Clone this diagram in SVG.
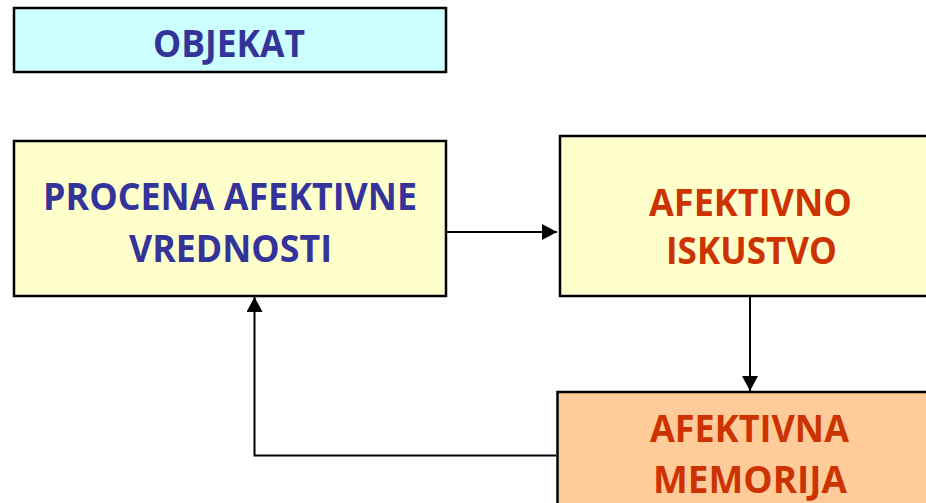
<svg xmlns="http://www.w3.org/2000/svg" width="926" height="503" viewBox="0 0 926 503">
<defs>
<style>
.box{stroke:#000;stroke-width:2.5}
.t{font-family:"Open Sans","Liberation Sans",sans-serif;font-weight:bold;font-size:37.5px;text-anchor:middle}
.blue{fill:#333399}
.red{fill:#CC3300}
.conn{stroke:#000;stroke-width:2;fill:none}
</style>
<marker id="ah" markerWidth="16" markerHeight="16" viewBox="0 0 16 16" refX="15" refY="8" orient="auto" markerUnits="userSpaceOnUse">
<path d="M0,0 L15,8 L0,16 Z" fill="#000"/>
</marker>
</defs>
<rect width="926" height="503" fill="#fff"/>
<g id="objekat">
<rect class="box" x="14" y="8" width="432" height="64" fill="#CCFFFF"/>
<text class="t blue" x="229" y="57" textLength="152" lengthAdjust="spacingAndGlyphs">OBJEKAT</text>
</g>
<g id="procena">
<rect class="box" x="14" y="141" width="432" height="155" fill="#FFFFCC"/>
<text class="t blue" x="230" y="210" textLength="374" lengthAdjust="spacingAndGlyphs">PROCENA AFEKTIVNE</text>
<text class="t blue" x="230.5" y="262" textLength="203" lengthAdjust="spacingAndGlyphs">VREDNOSTI</text>
</g>
<g id="iskustvo">
<rect class="box" x="560" y="136" width="380" height="160" fill="#FFFFCC"/>
<text class="t red" x="750.5" y="215.5" textLength="203" lengthAdjust="spacingAndGlyphs">AFEKTIVNO</text>
<text class="t red" x="751.5" y="264" textLength="171" lengthAdjust="spacingAndGlyphs">ISKUSTVO</text>
</g>
<g id="memorija">
<rect class="box" x="557.5" y="392" width="380" height="130" fill="#FFCC99"/>
<text class="t red" x="749.5" y="441.5" textLength="199" lengthAdjust="spacingAndGlyphs">AFEKTIVNA</text>
<text class="t red" x="750" y="492.5" textLength="194" lengthAdjust="spacingAndGlyphs">MEMORIJA</text>
</g>
<g id="connectors">
<line class="conn" x1="447" y1="232" x2="557" y2="232" marker-end="url(#ah)"/>
<line class="conn" x1="750" y1="297" x2="750" y2="391" marker-end="url(#ah)"/>
<polyline class="conn" points="556,455.5 254.5,455.5 254.5,297" marker-end="url(#ah)"/>
</g>
</svg>
